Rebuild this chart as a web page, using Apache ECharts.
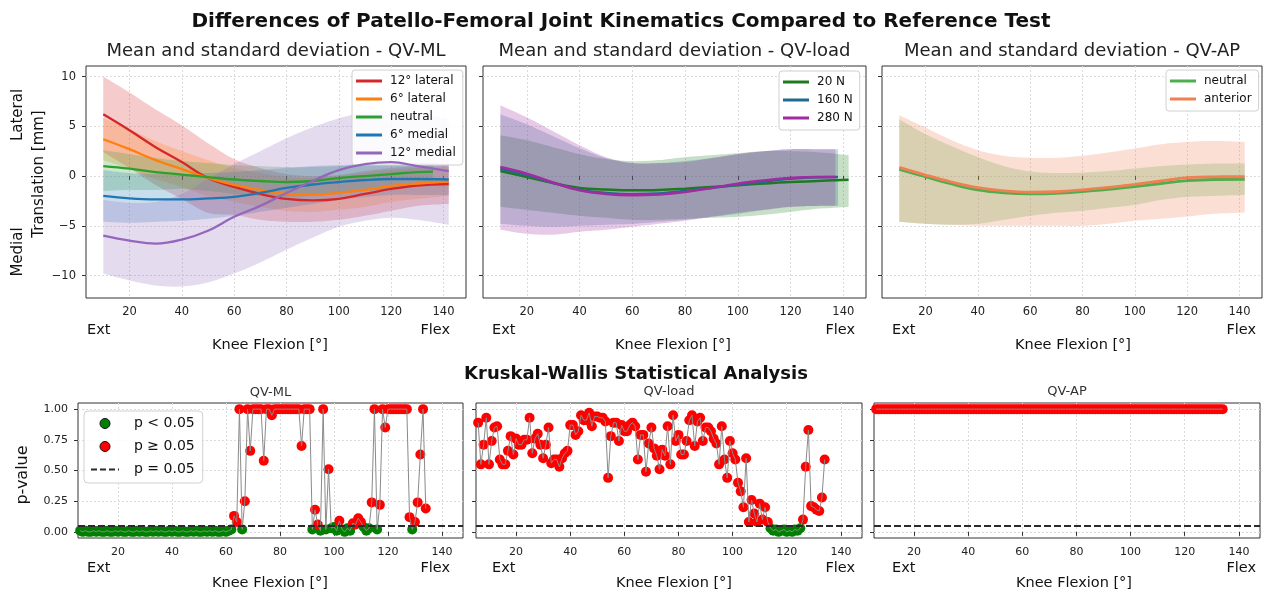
<!DOCTYPE html>
<html>
<head>
<meta charset="utf-8">
<title>Patello-Femoral Joint Kinematics</title>
<script src="https://cdn.jsdelivr.net/npm/echarts@6/dist/echarts.min.js"></script>
<style>
  html, body { margin: 0; padding: 0; background: #fff; }
  #main { width: 1264px; height: 594px; }
</style>
</head>
<body>
<div id="main"></div>
<script>
// knee flexion sample points [deg]
const flexML = [10, 20, 30, 40, 50, 60, 70, 80, 90, 100, 110, 120, 130, 142];
const flexMLNeutral = [10, 20, 30, 40, 50, 60, 70, 80, 90, 100, 110, 120, 130, 136];
const flexLoad20 = [10, 20, 30, 40, 50, 60, 70, 80, 90, 100, 110, 120, 130, 142];
const flexLoad160 = [10, 20, 30, 40, 50, 60, 70, 80, 90, 100, 110, 120, 130, 138];
const flexLoad280 = [10, 20, 30, 40, 50, 60, 70, 80, 90, 100, 110, 120, 130, 137];
const flexAP = [10, 20, 30, 40, 50, 60, 70, 80, 90, 100, 110, 120, 130, 142];

// QV-ML  mean / upper / lower  [mm]
const lat12Mean = [6.2, 4.6, 2.9, 1.4, -0.2, -1.1, -1.8, -2.3, -2.45, -2.3, -1.8, -1.3, -0.95, -0.8];
const lat12Up = [10.0, 8.4, 6.7, 5.1, 3.3, 1.7, 0.8, 0.2, 0.0, 0.1, 0.5, 0.8, 1.0, 1.1];
const lat12Lo = [2.4, 0.8, -0.9, -2.3, -3.7, -3.9, -4.4, -4.6, -4.6, -4.4, -4.0, -3.5, -3.0, -2.8];
const lat6Mean = [3.7, 2.7, 1.6, 0.7, -0.2, -0.9, -1.4, -1.8, -1.9, -1.7, -1.4, -1.0, -0.75, -0.55];
const lat6Up = [5.8, 4.7, 3.5, 2.5, 1.6, 0.8, 0.3, -0.1, -0.2, 0.0, 0.3, 0.6, 0.8, 0.9];
const lat6Lo = [1.6, 0.7, -0.3, -1.1, -2.0, -2.6, -3.1, -3.5, -3.6, -3.4, -3.1, -2.6, -2.3, -2.0];
const neuMLMean = [1.0, 0.75, 0.4, 0.15, -0.1, -0.35, -0.5, -0.6, -0.5, -0.2, 0.0, 0.2, 0.4, 0.45];
const neuMLUp = [2.6, 2.2, 1.8, 1.5, 1.3, 1.1, 1.0, 0.9, 0.9, 1.0, 1.1, 1.2, 1.3, 1.3];
const neuMLLo = [-1.5, -1.4, -1.4, -1.3, -1.5, -1.8, -2.0, -2.1, -2.0, -1.8, -1.5, -1.3, -1.0, -0.8];
const med6Mean = [-2.0, -2.25, -2.35, -2.35, -2.25, -2.1, -1.7, -1.2, -0.85, -0.6, -0.4, -0.3, -0.3, -0.35];
const med6Up = [0.6, 0.3, 0.2, 0.2, 0.3, 0.4, 0.6, 0.8, 1.0, 1.1, 1.2, 1.3, 1.3, 1.2];
const med6Lo = [-4.6, -4.7, -4.6, -4.5, -4.3, -4.0, -3.6, -3.2, -2.8, -2.4, -2.1, -1.9, -1.9, -1.9];
const med12Mean = [-6.0, -6.5, -6.8, -6.4, -5.5, -4.1, -3.0, -1.7, -0.5, 0.6, 1.2, 1.4, 1.0, 0.5];
const med12Up = [-2.4, -2.7, -2.6, -1.8, -0.3, 1.2, 2.5, 3.8, 4.9, 5.8, 6.4, 6.5, 6.2, 5.8];
const med12Lo = [-9.8, -10.5, -11.0, -11.1, -10.7, -9.8, -8.7, -7.4, -6.2, -5.1, -4.5, -4.2, -4.4, -4.9];

// QV-load
const load20Mean = [0.5, -0.1, -0.7, -1.2, -1.35, -1.43, -1.4, -1.27, -1.1, -0.93, -0.75, -0.6, -0.5, -0.37];
const load20Up = [4.1, 3.6, 2.9, 2.2, 1.7, 1.5, 1.6, 1.9, 2.1, 2.3, 2.5, 2.5, 2.4, 2.1];
const load20Lo = [-3.1, -3.4, -3.7, -4.0, -4.2, -4.4, -4.4, -4.3, -4.2, -4.1, -3.9, -3.6, -3.3, -3.1];
const load160Mean = [0.73, 0.1, -0.7, -1.37, -1.7, -1.83, -1.75, -1.5, -1.2, -0.87, -0.55, -0.27, -0.12, -0.1];
const load160Up = [6.2, 5.2, 4.0, 2.8, 1.8, 1.3, 1.3, 1.5, 1.8, 2.2, 2.5, 2.7, 2.7, 2.7];
const load160Lo = [-4.8, -5.0, -5.1, -5.0, -4.9, -4.8, -4.6, -4.4, -4.1, -3.8, -3.4, -3.1, -3.0, -3.0];
const load280Mean = [0.9, 0.23, -0.65, -1.43, -1.8, -1.93, -1.85, -1.6, -1.2, -0.77, -0.45, -0.2, -0.1, -0.1];
const load280Up = [7.1, 5.9, 4.5, 3.1, 1.9, 1.3, 1.3, 1.4, 1.8, 2.2, 2.5, 2.7, 2.7, 2.7];
const load280Lo = [-5.4, -5.8, -5.9, -5.6, -5.4, -5.1, -4.8, -4.5, -4.1, -3.7, -3.4, -3.1, -3.0, -3.0];

// QV-AP
const apNeuMean = [0.67, -0.07, -0.8, -1.4, -1.7, -1.8, -1.75, -1.57, -1.35, -1.07, -0.75, -0.47, -0.35, -0.33];
const apNeuUp = [5.7, 4.2, 3.0, 1.9, 1.0, 0.45, 0.3, 0.35, 0.5, 0.75, 1.0, 1.15, 1.25, 1.25];
const apNeuLo = [-4.6, -4.8, -4.9, -4.8, -4.4, -4.0, -3.7, -3.5, -3.2, -2.9, -2.4, -2.1, -2.0, -1.9];
const apAntMean = [0.87, 0.1, -0.6, -1.17, -1.5, -1.63, -1.58, -1.4, -1.15, -0.83, -0.5, -0.17, -0.08, -0.07];
const apAntUp = [6.1, 4.87, 3.6, 2.6, 2.03, 1.83, 1.83, 2.03, 2.37, 2.77, 3.2, 3.43, 3.53, 3.43];
const apAntLo = [-4.6, -4.8, -4.9, -5.0, -5.0, -5.0, -5.0, -5.0, -4.8, -4.5, -4.3, -4.07, -3.8, -3.67];

// Kruskal-Wallis p-values, one per degree starting at pStart
const pStart = 6;
const threshold = 0.05;
const pML = [
  0.01, 0.00, 0.01, 0.00, 0.00, 0.01, 0.00, 0.01, 0.00, 0.00,
  0.01, 0.00, 0.00, 0.01, 0.00, 0.01, 0.00, 0.00, 0.01, 0.00,
  0.00, 0.01, 0.00, 0.01, 0.00, 0.00, 0.01, 0.00, 0.01, 0.00,
  0.01, 0.00, 0.00, 0.01, 0.00, 0.01, 0.00, 0.00, 0.01, 0.00,
  0.00, 0.01, 0.00, 0.01, 0.00, 0.00, 0.01, 0.00, 0.01, 0.00,
  0.01, 0.00, 0.00, 0.01, 0.00, 0.01, 0.02,
  0.13, 0.08, 1.00, 0.02, 0.25, 1.00, 0.66, 1.00, 1.00, 1.00,
  1.00, 0.58, 1.00, 1.00, 0.95, 1.00, 1.00, 1.00, 1.00, 1.00,
  1.00, 1.00, 1.00, 1.00, 1.00, 0.70, 1.00, 1.00, 1.00, 0.02,
  0.18, 0.06, 0.01, 1.00, 0.02, 0.51, 0.03, 0.04, 0.01, 0.09,
  0.02, 0.00, 0.03, 0.01, 0.07, 0.06, 0.11, 0.08, 0.04, 0.01,
  0.03, 0.24, 1.00, 0.02, 0.22, 1.00, 0.85, 1.00, 1.00, 1.00,
  1.00, 1.00, 1.00, 1.00, 1.00, 0.12, 0.02, 0.08, 0.24, 0.63,
  1.00, 0.19
];
const pLoad = [
  0.89, 0.55, 0.71, 0.93, 0.55, 0.74, 0.85, 0.86, 0.59, 0.55,
  0.55, 0.66, 0.78, 0.63, 0.76, 0.71, 0.71, 0.75, 0.75, 0.93,
  0.64, 0.76, 0.80, 0.71, 0.60, 0.71, 0.85, 0.56, 0.59, 0.59,
  0.53, 0.60, 0.64, 0.66, 0.87, 0.87, 0.79, 0.82, 0.95, 0.91,
  0.91, 0.97, 0.86, 0.94, 0.94, 0.93, 0.93, 0.90, 0.44, 0.78,
  0.89, 0.89, 0.74, 0.87, 0.82, 0.82, 0.87, 0.89, 0.86, 0.59,
  0.79, 0.79, 0.49, 0.72, 0.85, 0.68, 0.62, 0.51, 0.67, 0.62,
  0.86, 0.55, 0.95, 0.74, 0.79, 0.63, 0.63, 0.74, 0.91, 0.95,
  0.70, 0.90, 0.93, 0.74, 0.85, 0.85, 0.82, 0.76, 0.72, 0.55,
  0.86, 0.59, 0.44, 0.74, 0.64, 0.59, 0.40, 0.33, 0.20, 0.60,
  0.08, 0.26, 0.15, 0.08, 0.23, 0.10, 0.20, 0.08, 0.03, 0.01,
  0.02, 0.00, 0.01, 0.02, 0.00, 0.01, 0.00, 0.02, 0.01, 0.03,
  0.10, 0.53, 0.83, 0.21, 0.20, 0.18, 0.17, 0.28, 0.59
];
const pAP = [
  1.00, 1.00, 1.00, 1.00, 1.00, 1.00, 1.00, 1.00, 1.00, 1.00,
  1.00, 1.00, 1.00, 1.00, 1.00, 1.00, 1.00, 1.00, 1.00, 1.00,
  1.00, 1.00, 1.00, 1.00, 1.00, 1.00, 1.00, 1.00, 1.00, 1.00,
  1.00, 1.00, 1.00, 1.00, 1.00, 1.00, 1.00, 1.00, 1.00, 1.00,
  1.00, 1.00, 1.00, 1.00, 1.00, 1.00, 1.00, 1.00, 1.00, 1.00,
  1.00, 1.00, 1.00, 1.00, 1.00, 1.00, 1.00, 1.00, 1.00, 1.00,
  1.00, 1.00, 1.00, 1.00, 1.00, 1.00, 1.00, 1.00, 1.00, 1.00,
  1.00, 1.00, 1.00, 1.00, 1.00, 1.00, 1.00, 1.00, 1.00, 1.00,
  1.00, 1.00, 1.00, 1.00, 1.00, 1.00, 1.00, 1.00, 1.00, 1.00,
  1.00, 1.00, 1.00, 1.00, 1.00, 1.00, 1.00, 1.00, 1.00, 1.00,
  1.00, 1.00, 1.00, 1.00, 1.00, 1.00, 1.00, 1.00, 1.00, 1.00,
  1.00, 1.00, 1.00, 1.00, 1.00, 1.00, 1.00, 1.00, 1.00, 1.00,
  1.00, 1.00, 1.00, 1.00, 1.00, 1.00, 1.00, 1.00, 1.00
];

// tick labels
const xTicks = [20, 40, 60, 80, 100, 120, 140];
const yTicksTop = [-10, -5, 0, 5, 10];
const yTicksP = [0, 0.25, 0.5, 0.75, 1];

const FONT = 'DejaVu Sans';
const pair = (xs, ys) => xs.map((x, i) => [x, ys[i]]);

function rgba(hex, a) {
  const n = parseInt(hex.slice(1), 16);
  return 'rgba(' + (n >> 16 & 255) + ',' + (n >> 8 & 255) + ',' + (n & 255) + ',' + a + ')';
}

// smooth outline through pixel points (drawing only, Catmull-Rom)
function smoothPath(p) {
  const out = [];
  for (let i = 0; i < p.length - 1; i++) {
    const p0 = p[Math.max(i - 1, 0)], p1 = p[i], p2 = p[i + 1], p3 = p[Math.min(i + 2, p.length - 1)];
    for (let k = 0; k < 10; k++) {
      const t = k / 10, t2 = t * t, t3 = t2 * t;
      const f = (a, b, c, d) => 0.5 * (2 * b + (-a + c) * t + (2 * a - 5 * b + 4 * c - d) * t2 + (-a + 3 * b - 3 * c + d) * t3);
      out.push([f(p0[0], p1[0], p2[0], p3[0]), f(p0[1], p1[1], p2[1], p3[1])]);
    }
  }
  out.push(p[p.length - 1]);
  return out;
}

// mean line
function meanLine(name, xs, ys, color, gi, w) {
  return {
    name: name, type: 'line', xAxisIndex: gi, yAxisIndex: gi,
    data: pair(xs, ys), smooth: 0.4, symbol: 'none', color: color,
    lineStyle: { color: color, width: w || 2.3 }, z: 4, silent: true
  };
}
// standard deviation band between lower and upper
function band(xs, lo, up, color, gi, op) {
  return {
    type: 'custom', xAxisIndex: gi, yAxisIndex: gi, silent: true, z: 1,
    data: xs.map((x, i) => [x, lo[i], up[i]]),
    encode: { x: 0, y: [1, 2] },
    renderItem: function (params, api) {
      if (params.dataIndex !== 0) return null;
      const top = xs.map((x, i) => api.coord([x, up[i]]));
      const bot = xs.map((x, i) => api.coord([x, lo[i]]));
      const pts = smoothPath(top).concat(smoothPath(bot).reverse());
      return { type: 'polygon', shape: { points: pts }, style: { fill: rgba(color, op), stroke: null } };
    }
  };
}
// p-value panel
function pPanel(values, gi) {
  const pts = values.map((p, i) => [pStart + i, p]);
  const dash = { color: '#2a2a2a', width: 2, type: [7, 3] };
  return [
    { name: 'p < 0.05', type: 'scatter', xAxisIndex: gi, yAxisIndex: gi, symbol: 'circle',
      data: pts.filter(d => d[1] < threshold), symbolSize: 10,
      itemStyle: { color: '#008000', opacity: 1, borderWidth: 0, borderColor: '#008000' }, z: 2, silent: true },
    { name: 'p ≥ 0.05', type: 'scatter', xAxisIndex: gi, yAxisIndex: gi, symbol: 'circle',
      data: pts.filter(d => d[1] >= threshold), symbolSize: 10,
      itemStyle: { color: '#ff0000', opacity: 1, borderWidth: 0, borderColor: '#ff0000' }, z: 3, silent: true },
    { type: 'line', xAxisIndex: gi, yAxisIndex: gi, data: pts, symbol: 'none',
      lineStyle: { color: '#8a8a8a', width: 1 }, z: 4, silent: true },
    { name: 'p = 0.05', type: 'line', xAxisIndex: gi, yAxisIndex: gi, data: [],
      symbol: 'none', color: '#2a2a2a', lineStyle: dash, z: 5,
      markLine: { silent: true, symbol: 'none', label: { show: false }, lineStyle: dash,
        data: [{ yAxis: threshold }] } }
  ];
}

const gridTop = [
  { left: 86, top: 66, width: 380, height: 232 },
  { left: 483, top: 66, width: 383, height: 232 },
  { left: 882, top: 66, width: 380, height: 232 }
];
const gridBot = [
  { left: 78, top: 403, width: 385, height: 135 },
  { left: 476, top: 403, width: 386, height: 135 },
  { left: 874, top: 403, width: 386, height: 135 }
];
const grids = gridTop.concat(gridBot).map(g => Object.assign({
  show: true, borderColor: '#333', borderWidth: 1, backgroundColor: 'transparent',
  containLabel: false, outerBoundsMode: 'none'
}, g));

const gridLine = { show: true, lineStyle: { color: '#dcdcdc', width: 1, type: [2, 2] } };
const minus = v => String(v).replace('-', '\u2212');

function xAxisFor(gi, top) {
  return {
    gridIndex: gi, type: 'value',
    min: top ? 3.4 : 5.2, max: top ? 148.6 : 147.8,
    axisLine: { show: false },
    axisTick: { show: true, length: 4, lineStyle: { color: '#333' }, customValues: xTicks },
    axisLabel: { customValues: xTicks, color: '#222', fontSize: top ? 11.5 : 11,
      fontFamily: FONT, margin: top ? 8 : 9 },
    splitLine: gridLine
  };
}
function yAxisFor(gi, top, labels) {
  const ticks = top ? yTicksTop : yTicksP;
  return {
    gridIndex: gi, type: 'value',
    min: top ? -12.26 : -0.05, max: top ? 11.06 : 1.05,
    axisLine: { show: false },
    axisTick: { show: true, length: 4, lineStyle: { color: '#333' }, customValues: ticks },
    axisLabel: { show: labels, customValues: ticks, color: '#222', fontSize: top ? 11.5 : 11,
      fontFamily: FONT, margin: 10,
      formatter: top ? (v => minus(v)) : (v => v.toFixed(2)) },
    splitLine: gridLine
  };
}

function txt(x, y, text, size, o) {
  o = o || {};
  return {
    type: 'text', x: x, y: y, rotation: o.rot || 0, silent: true,
    style: {
      text: text, fontSize: size, fontFamily: FONT, fontWeight: o.bold ? 'bold' : 'normal',
      fill: o.color || '#111', align: o.align || 'center', verticalAlign: 'middle'
    }
  };
}

const legendBase = {
  orient: 'vertical', selectedMode: false, itemWidth: 26, itemHeight: 14, itemGap: 4,
  backgroundColor: 'rgba(255,255,255,0.85)', borderColor: '#d0d0d0', borderWidth: 1,
  borderRadius: 3, padding: [4, 7, 5, 4],
  textStyle: { fontSize: 12, fontFamily: FONT, color: '#111', lineHeight: 14, padding: [0, 0, 0, 3] }
};
const lineItem = (name, color) => ({ name: name, icon: 'path://M0,5.5H26V8.5H0Z', itemStyle: { color: color } });

const cML = { l12: '#d62728', l6: '#ff7f0e', neu: '#2ca02c', m6: '#1f77b4', m12: '#9467bd' };
const cLoad = { n20: '#1f7a1f', n160: '#1f6b8e', n280: '#a12ba1' };
const cAP = { neu: '#4cae4c', ant: '#f07f52' };

const series = [].concat(
  band(flexML, lat12Lo, lat12Up, cML.l12, 0, 0.24),
  band(flexML, lat6Lo, lat6Up, cML.l6, 0, 0.24),
  band(flexMLNeutral, neuMLLo, neuMLUp, cML.neu, 0, 0.24),
  band(flexML, med6Lo, med6Up, cML.m6, 0, 0.24),
  band(flexML, med12Lo, med12Up, cML.m12, 0, 0.24),
  meanLine('12° lateral', flexML, lat12Mean, cML.l12, 0),
  meanLine('6° lateral', flexML, lat6Mean, cML.l6, 0),
  meanLine('neutral', flexMLNeutral, neuMLMean, cML.neu, 0),
  meanLine('6° medial', flexML, med6Mean, cML.m6, 0),
  meanLine('12° medial', flexML, med12Mean, cML.m12, 0),

  band(flexLoad20, load20Lo, load20Up, cLoad.n20, 1, 0.25),
  band(flexLoad160, load160Lo, load160Up, cLoad.n160, 1, 0.25),
  band(flexLoad280, load280Lo, load280Up, cLoad.n280, 1, 0.25),
  meanLine('20 N', flexLoad20, load20Mean, cLoad.n20, 1, 2.5),
  meanLine('160 N', flexLoad160, load160Mean, cLoad.n160, 1, 2.5),
  meanLine('280 N', flexLoad280, load280Mean, cLoad.n280, 1, 2.5),

  band(flexAP, apNeuLo, apNeuUp, cAP.neu, 2, 0.25),
  band(flexAP, apAntLo, apAntUp, cAP.ant, 2, 0.25),
  meanLine('neutral ', flexAP, apNeuMean, cAP.neu, 2, 2.8),
  meanLine('anterior', flexAP, apAntMean, cAP.ant, 2, 2.8),

  pPanel(pML, 3),
  pPanel(pLoad, 4),
  pPanel(pAP, 5)
);

const option = {
  animation: false,
  backgroundColor: '#ffffff',
  textStyle: { fontFamily: FONT },
  grid: grids,
  xAxis: [0, 1, 2].map(i => xAxisFor(i, true)).concat([3, 4, 5].map(i => xAxisFor(i, false))),
  yAxis: [
    yAxisFor(0, true, true), yAxisFor(1, true, false), yAxisFor(2, true, false),
    yAxisFor(3, false, true), yAxisFor(4, false, false), yAxisFor(5, false, false)
  ],
  legend: [
    Object.assign({}, legendBase, { left: 352, top: 70, data: [
      lineItem('12° lateral', cML.l12), lineItem('6° lateral', cML.l6), lineItem('neutral', cML.neu),
      lineItem('6° medial', cML.m6), lineItem('12° medial', cML.m12)] }),
    Object.assign({}, legendBase, { left: 779, top: 71, data: [
      lineItem('20 N', cLoad.n20), lineItem('160 N', cLoad.n160), lineItem('280 N', cLoad.n280)] }),
    Object.assign({}, legendBase, { left: 1166, top: 70, data: [
      lineItem('neutral ', cAP.neu), lineItem('anterior', cAP.ant)] }),
    Object.assign({}, legendBase, {
      left: 84, top: 411, itemWidth: 28, itemHeight: 10, itemGap: 8, padding: [5, 8, 6, 7],
      borderRadius: 4,
      textStyle: { fontSize: 14, fontFamily: FONT, color: '#111', lineHeight: 15, padding: [0, 0, 0, 10] },
      data: [
        { name: 'p < 0.05', icon: 'circle', itemStyle: { color: '#008000', borderColor: '#111', borderWidth: 1 } },
        { name: 'p ≥ 0.05', icon: 'circle', itemStyle: { color: '#ff0000', borderColor: '#111', borderWidth: 1 } },
        { name: 'p = 0.05', icon: 'path://M0,4H6V6H0Z M9,4H15V6H9Z M18,4H24V6H18Z M27,4H28V6H27Z',
          itemStyle: { color: '#2a2a2a' } }
      ]
    })
  ],
  graphic: [
    txt(621, 22, 'Differences of Patello-Femoral Joint Kinematics Compared to Reference Test', 20, { bold: true }),
    txt(276, 51, 'Mean and standard deviation - QV-ML', 18, { color: '#222' }),
    txt(674.5, 51, 'Mean and standard deviation - QV-load', 18, { color: '#222' }),
    txt(1072, 51, 'Mean and standard deviation - QV-AP', 18, { color: '#222' }),
    txt(18, 115, 'Lateral', 15, { rot: Math.PI / 2 }),
    txt(39, 174, 'Translation [mm]', 15, { rot: Math.PI / 2 }),
    txt(18, 252, 'Medial', 15, { rot: Math.PI / 2 }),
    txt(87, 330, 'Ext', 14.5, { align: 'left' }),
    txt(492, 330, 'Ext', 14.5, { align: 'left' }),
    txt(892, 330, 'Ext', 14.5, { align: 'left' }),
    txt(450, 330, 'Flex', 14.5, { align: 'right' }),
    txt(855, 330, 'Flex', 14.5, { align: 'right' }),
    txt(1256, 330, 'Flex', 14.5, { align: 'right' }),
    txt(270, 345, 'Knee Flexion [°]', 14.5),
    txt(673, 345, 'Knee Flexion [°]', 14.5),
    txt(1073, 345, 'Knee Flexion [°]', 14.5),

    txt(636, 374, 'Kruskal-Wallis Statistical Analysis', 18, { bold: true }),
    txt(270.5, 393, 'QV-ML', 13, { color: '#333' }),
    txt(669, 392, 'QV-load', 13, { color: '#333' }),
    txt(1067, 392, 'QV-AP', 13, { color: '#333' }),
    txt(23, 475, 'p-value', 16, { rot: Math.PI / 2 }),
    txt(87, 568, 'Ext', 14.5, { align: 'left' }),
    txt(492, 568, 'Ext', 14.5, { align: 'left' }),
    txt(892, 568, 'Ext', 14.5, { align: 'left' }),
    txt(450, 568, 'Flex', 14.5, { align: 'right' }),
    txt(855, 568, 'Flex', 14.5, { align: 'right' }),
    txt(1256, 568, 'Flex', 14.5, { align: 'right' }),
    txt(270, 583, 'Knee Flexion [°]', 14.5),
    txt(674, 583, 'Knee Flexion [°]', 14.5),
    txt(1074, 583, 'Knee Flexion [°]', 14.5)
  ],
  series: series
};

const chart = echarts.init(document.getElementById('main'), null, { renderer: 'canvas' });
chart.setOption(option);
</script>
</body>
</html>
